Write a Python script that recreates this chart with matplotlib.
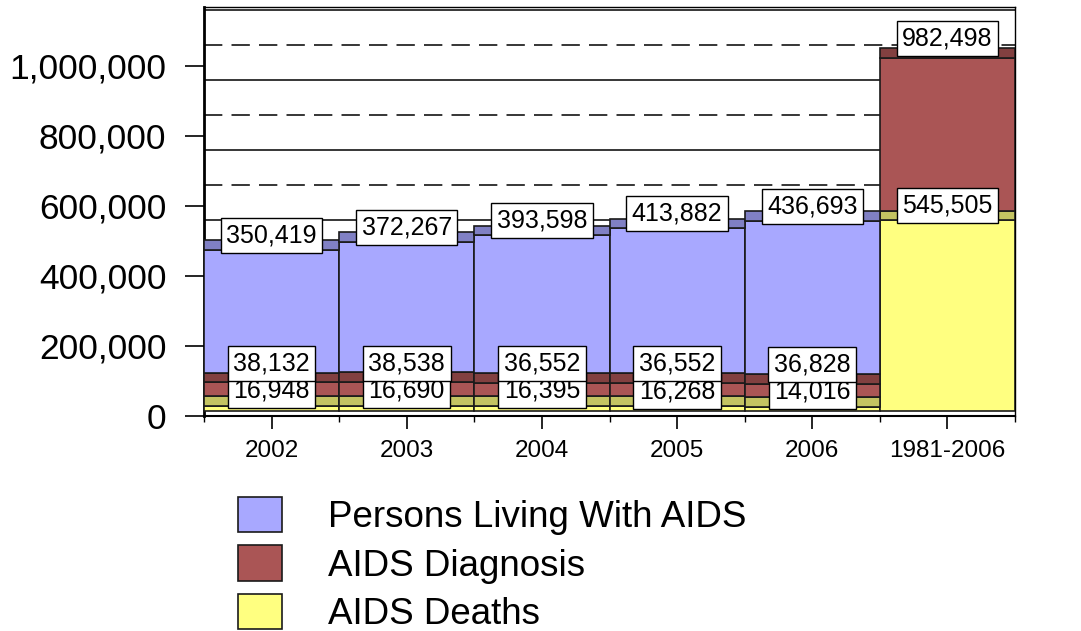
import numpy as np
import matplotlib
matplotlib.use("Agg")
import matplotlib.pyplot as plt

plt.rcParams['font.family'] = ['Liberation Sans', 'DejaVu Sans']

# data
categories = ['2002', '2003', '2004', '2005', '2006', '1981-2006']
deaths = [16948, 16690, 16395, 16268, 14016, 545505]
diagnoses = [38132, 38538, 36552, 36552, 36828, 982498]
living = [350419, 372267, 393598, 413882, 436693, 0]
cumulative = [False, False, False, False, False, True]

series_names = ['Persons Living With AIDS', 'AIDS Diagnosis', 'AIDS Deaths']

# colours: (front face, top face)
BLUE = ('#A8A8FF', '#8080C4')
RED = ('#AA5555', '#824040')
YELLOW = ('#FFFF80', '#C4C462')

FLOOR = 13000    # 3D floor lift
DEPTH = 28000    # height of the pseudo-3D top face

fig = plt.figure(figsize=(10.81, 6.31), dpi=100)
ax = fig.add_axes([204 / 1081, 1 - 416 / 631, 811 / 1081, 409 / 631])

x = np.arange(len(categories))
deaths_a = np.array(deaths, dtype=float)
diag_a = np.array(diagnoses, dtype=float)
living_a = np.array(living, dtype=float)
# cumulative diagnoses include deaths, so only the excess sits on top
red_h = np.where(cumulative, diag_a - deaths_a, diag_a)

edge = dict(edgecolor='#1a1a1a', linewidth=1.2, width=1.0, zorder=3)

y0 = np.full(len(x), FLOOR, dtype=float)
b_yel = ax.bar(x, deaths_a, bottom=y0, color=YELLOW[0], **edge)
ax.bar(x, DEPTH, bottom=y0 + deaths_a, color=YELLOW[1], **edge)
y1 = y0 + deaths_a + DEPTH

b_red = ax.bar(x, red_h, bottom=y1, color=RED[0], **edge)
ax.bar(x, DEPTH, bottom=y1 + red_h, color=RED[1], **edge)
y2 = y1 + red_h + DEPTH

has_living = living_a > 0
b_blue = ax.bar(x[has_living], living_a[has_living], bottom=y2[has_living],
                color=BLUE[0], **edge)
ax.bar(x[has_living], DEPTH, bottom=(y2 + living_a)[has_living],
       color=BLUE[1], **edge)

# value labels
box = dict(boxstyle='square,pad=0.22', fc='white', ec='black', lw=1)
def label(xi, yi, val):
    ax.text(xi, yi, f'{int(val):,}', ha='center', va='center', fontsize=18,
            bbox=box, zorder=5)

for i in range(len(x)):
    label(x[i], y0[i] + deaths_a[i] + DEPTH + 14000, deaths[i])
    label(x[i], y1[i] + red_h[i] + DEPTH + 27000, diagnoses[i])
    if has_living[i]:
        label(x[i], y2[i] + living_a[i] + DEPTH + 14000, living[i])

# back-wall gridlines (shifted up by the 3D offset), alternating dashed / solid
for k, v in enumerate(range(0, 1100001, 100000)):
    ls = (0, (12, 6)) if k % 2 == 0 else '-'
    ax.axhline(v + 60000, color='black', lw=1.1, ls=ls, zorder=1)

ax.set_xlim(-0.5, len(categories) - 0.5)
ax.set_ylim(0, 1168000)

ax.set_yticks(np.arange(0, 1000001, 200000))
ax.set_yticklabels([f'{v:,}' for v in range(0, 1000001, 200000)], fontsize=25.5)
ax.tick_params(axis='y', direction='out', length=14, width=1.2, pad=13)

ax.set_xticks(x)
ax.set_xticklabels(categories, fontsize=17.5)
ax.set_xticks(np.arange(-0.5, len(categories)), minor=True)
ax.tick_params(axis='x', which='major', direction='out', length=9, width=1.2, pad=8)
ax.tick_params(axis='x', which='minor', direction='out', length=4, width=1)

for side in ['top', 'right']:
    ax.spines[side].set_linewidth(1)
ax.spines['left'].set_linewidth(2)
ax.spines['bottom'].set_linewidth(1.5)

leg = ax.legend([b_blue, b_red, b_yel], series_names,
                loc='upper left', bbox_to_anchor=(238 / 1081, 1 - 497 / 631),
                bbox_transform=fig.transFigure, frameon=False, fontsize=26.5,
                handlelength=1.2, handleheight=1.1, handletextpad=1.25,
                labelspacing=0.28, borderpad=0, borderaxespad=0)

fig.savefig('out.png', dpi=100)
